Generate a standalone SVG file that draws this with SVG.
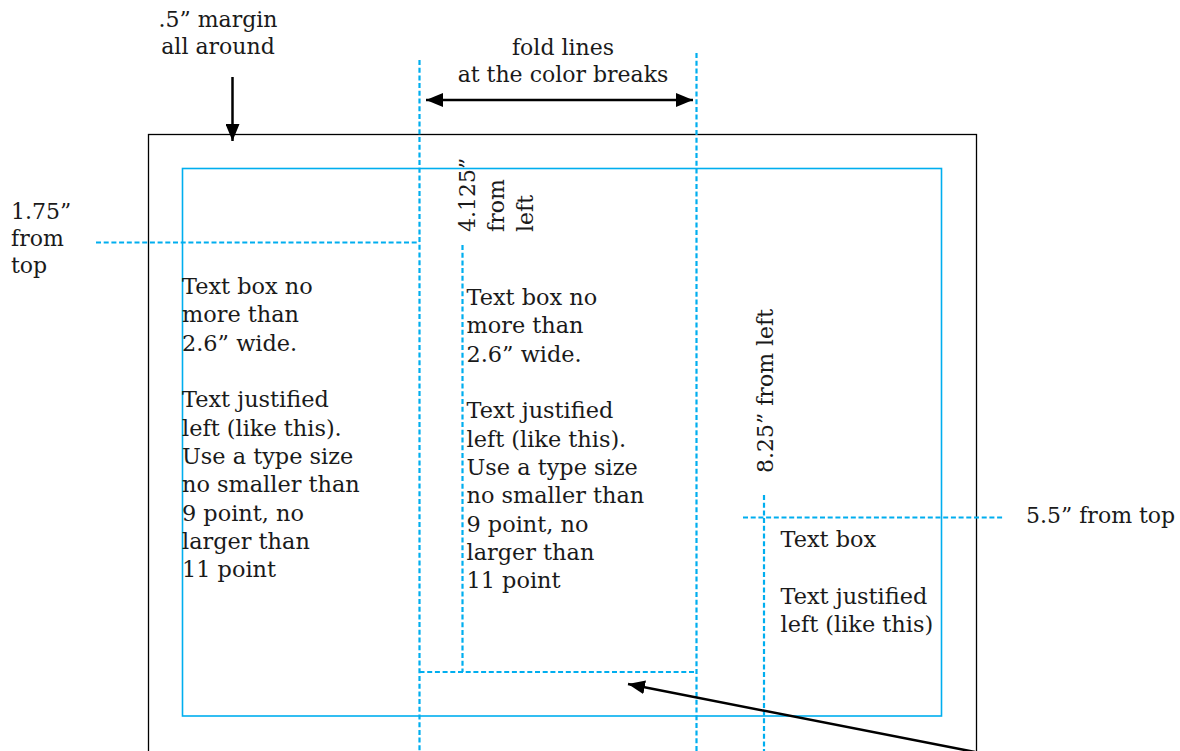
<svg xmlns="http://www.w3.org/2000/svg" width="1180" height="751" viewBox="0 0 1180 751">
<style>
  text { font-family: "DejaVu Serif", "Liberation Serif", serif; font-size: 22px; fill: #1a1a1a; }
  .body { font-size: 22.4px; }
  .page { fill: none; stroke: #000; stroke-width: 1.3; }
  .margin { fill: none; stroke: #00AEEF; stroke-width: 1.6; }
  .guide { fill: none; stroke: #00AEEF; stroke-width: 2.2; stroke-dasharray: 5 2.7; }
  .arrow { fill: none; stroke: #000; stroke-width: 2.5; }
</style>
<defs>
  <marker id="ah" markerUnits="userSpaceOnUse" markerWidth="18" markerHeight="14" refX="17" refY="7" orient="auto-start-reverse">
    <path d="M0,0 L17,7 L0,14 Z" fill="#000"/>
  </marker>
</defs>
<rect width="1180" height="751" fill="#fff"/>

<g id="page">
  <rect class="page" x="148.5" y="134.5" width="828" height="700"/>
</g>
<g id="margin-box">
  <rect class="margin" x="182.5" y="168.5" width="759" height="547.5"/>
</g>

<g id="connectors">
  <line class="guide" x1="419.5" y1="60" x2="419.5" y2="751"/>
  <line class="guide" x1="696.5" y1="53" x2="696.5" y2="751"/>
  <line class="guide" x1="96" y1="242.5" x2="419.5" y2="242.5"/>
  <line class="guide" x1="462.5" y1="245" x2="462.5" y2="672"/>
  <line class="guide" x1="419.5" y1="672" x2="696.5" y2="672"/>
  <line class="guide" x1="764" y1="495" x2="764" y2="751"/>
  <line class="guide" x1="743" y1="517.5" x2="1003" y2="517.5"/>
  <line class="arrow" x1="232.5" y1="77" x2="232.5" y2="141" marker-end="url(#ah)"/>
  <line class="arrow" x1="426" y1="100" x2="693" y2="100" marker-start="url(#ah)" marker-end="url(#ah)"/>
  <line class="arrow" x1="975" y1="752" x2="628" y2="684" marker-end="url(#ah)"/>
</g>

<g id="label-margin">
  <text x="218" y="27" text-anchor="middle">.5” margin</text>
  <text x="218" y="54" text-anchor="middle">all around</text>
</g>
<g id="label-fold">
  <text x="563" y="55" text-anchor="middle">fold lines</text>
  <text x="563" y="82" text-anchor="middle">at the color breaks</text>
</g>
<g id="label-175">
  <text x="11" y="219">1.75”</text>
  <text x="11" y="246">from</text>
  <text x="11" y="273">top</text>
</g>
<g id="label-4125">
  <text transform="translate(475,232) rotate(-90)">4.125”</text>
  <text transform="translate(504,232) rotate(-90)">from</text>
  <text transform="translate(533,232) rotate(-90)">left</text>
</g>
<g id="label-825">
  <text transform="translate(773,473) rotate(-90)">8.25” from left</text>
</g>
<g id="label-55">
  <text x="1026" y="523">5.5” from top</text>
</g>

<g id="textbox-left" class="body">
  <text class="body" x="182" y="294">Text box no</text>
  <text class="body" x="182" y="322.3">more than</text>
  <text class="body" x="182" y="350.6">2.6” wide.</text>
  <text class="body" x="182" y="407.3">Text justified</text>
  <text class="body" x="182" y="435.6">left (like this).</text>
  <text class="body" x="182" y="464">Use a type size</text>
  <text class="body" x="182" y="492.3">no smaller than</text>
  <text class="body" x="182" y="520.6">9 point, no</text>
  <text class="body" x="182" y="549">larger than</text>
  <text class="body" x="182" y="577.3">11 point</text>
</g>
<g id="textbox-middle">
  <text class="body" x="466.5" y="305">Text box no</text>
  <text class="body" x="466.5" y="333.3">more than</text>
  <text class="body" x="466.5" y="361.6">2.6” wide.</text>
  <text class="body" x="466.5" y="418.3">Text justified</text>
  <text class="body" x="466.5" y="446.6">left (like this).</text>
  <text class="body" x="466.5" y="475">Use a type size</text>
  <text class="body" x="466.5" y="503.3">no smaller than</text>
  <text class="body" x="466.5" y="531.6">9 point, no</text>
  <text class="body" x="466.5" y="560">larger than</text>
  <text class="body" x="466.5" y="588.3">11 point</text>
</g>
<g id="textbox-right">
  <text class="body" x="780.5" y="547.3">Text box</text>
  <text class="body" x="780.5" y="603.9">Text justified</text>
  <text class="body" x="780.5" y="632.2">left (like this)</text>
</g>
</svg>
